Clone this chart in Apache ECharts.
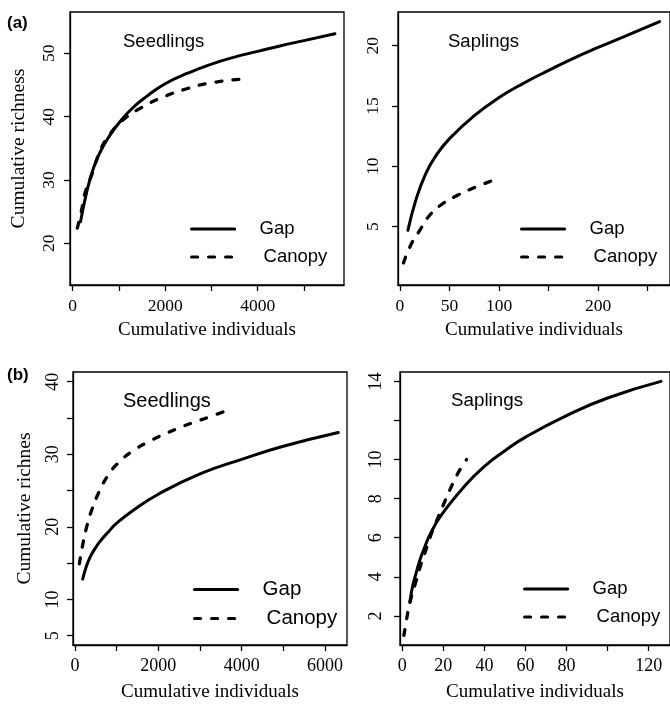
<!DOCTYPE html>
<html><head><meta charset="utf-8">
<script src="https://cdn.jsdelivr.net/npm/echarts@6/dist/echarts.min.js"></script>
<style>html,body{margin:0;padding:0;background:#fff}#c{width:670px;height:705px}</style>
</head><body><div id="c"></div>
<script>
// ---- data ----
const panelTitles = ['Seedlings', 'Saplings', 'Seedlings', 'Saplings'];
const panelTags = ['(a)', '(b)'];
const seriesNames = ['Gap', 'Canopy'];
const xAxisTitle = 'Cumulative individuals';
const yAxisTitles = ['Cumulative richness', '', 'Cumulative richnes', ''];

const xTicks = [[0,1000,2000,3000,4000,5000],[0,50,100,150,200,250],[0,1000,2000,3000,4000,5000,6000],[0,20,40,60,80,100,120]];
const xTickLabels = [[0,2000,4000],[0,50,100,200],[0,2000,4000,6000],[0,20,40,60,80,120]];
const yTicks = [[20,30,40,50],[5,10,15,20],[5,10,15,20,25,30,35,40],[2,4,6,8,10,12,14]];
const yTickLabels = [[20,30,40,50],[5,10,15,20],[5,10,20,30,40],[2,4,6,8,10,14]];

// (a) seedlings
const seedlingsGapA = [[170,23.4],[300,28.0],[450,31.9],[600,34.5],[800,37.0],[1000,39.0],[1300,41.4],[1600,43.2],[2000,45.2],[2500,46.9],[3000,48.3],[3500,49.4],[4000,50.3],[4500,51.2],[5000,52.0],[5670,53.1]];
const seedlingsCanopyA = [[100,22.4],[194,25.3],[266,27.9],[411,30.8],[519,33.2],[627,35.2],[843,37.6],[1094,39.5],[1455,41.3],[1959,43.1],[2465,44.4],[2969,45.3],[3617,45.9]];
// (a) saplings
const saplingsGapA = [[8,4.7],[16,7.2],[26,9.4],[36,10.85],[50,12.3],[75,14.2],[100,15.7],[125,16.9],[150,17.95],[175,18.95],[200,19.85],[225,20.7],[262,22.0]];
const saplingsCanopyA = [[3.5,2.0],[11,3.5],[20,4.7],[30,5.95],[43,6.9],[58,7.6],[74,8.2],[94,8.85]];
// (b) seedlings
const seedlingsGapB = [[184,12.8],[270,14.5],[360,15.8],[480,17.0],[600,18.0],[800,19.3],[1000,20.5],[1400,22.3],[2000,24.5],[3000,27.3],[4000,29.3],[5000,31.1],[6320,33.0]];
const seedlingsCanopyB = [[104,14.9],[184,17.5],[280,20.0],[400,22.3],[560,24.6],[760,26.8],[1000,28.6],[1360,30.35],[1720,31.6],[2040,32.5],[2440,33.5],[2800,34.3],[3200,35.1],[3640,36.0]];
// (b) saplings
const saplingsGapB = [[3.7,2.7],[5,3.5],[6.5,4.1],[8.4,4.8],[10.5,5.4],[13,6.05],[16.5,6.75],[20,7.3],[30,8.6],[40,9.65],[50,10.45],[60,11.15],[80,12.25],[100,13.15],[126,14.0]];
const saplingsCanopyB = [[0.8,1.0],[2.4,2.0],[4,2.8],[6.5,3.7],[8.7,4.5],[11.6,5.4],[14,6.15],[17.1,6.95],[20.3,7.75],[23.4,8.5],[27.1,9.3],[31.3,10.0]];

const panelData = [
  [seedlingsGapA, seedlingsCanopyA],
  [saplingsGapA, saplingsCanopyA],
  [seedlingsGapB, seedlingsCanopyB],
  [saplingsGapB, saplingsCanopyB]
];

// ---- layout / style ----
const grids = [
  {left:70, top:12, width:274, height:273},
  {left:398, top:12, width:277, height:273},
  {left:73, top:372, width:274, height:273},
  {left:400, top:372, width:277, height:273}
];
const xRange = [[-58,5866],[-2,272.5],[-48,6528],[-1.1,130.4]];
const yRange = [[13.42,56.52],[0.17,22.79],[3.72,41.34],[0.51,14.48]];
const yLabelMargin = [11.5, 16, 11, 14.6];
const xNameGap = [36, 36, 37.5, 37.5];
const yNameGap = [41, 0, 38, 0];
const tickFont = [17.5, 17.5, 18, 18];
const legendPos = [[190,219],[520,219],[193,579],[523,579]];
const legendFont = [18.5, 18.5, 20.5, 18.5];
const titlePos = [[123,32,18.5],[448,32,18.5],[123,391,20],[451,391,18.8]];

const serif = 'Liberation Serif';
const sans = 'Liberation Sans';
const dash = [6, 11];

const option = {
  backgroundColor: '#fff',
  animation: false,
  grid: grids.map(g => Object.assign({show:true, borderColor:'#000', borderWidth:1.3, backgroundColor:'transparent'}, g)),
  title: panelTitles.map((t,i) => ({
    text: t, left: titlePos[i][0], top: titlePos[i][1], padding: 0,
    textStyle: {fontFamily: sans, fontWeight: 'normal', fontSize: titlePos[i][2], color: '#000'}
  })).concat([
    {text: panelTags[0], left: 7, top: 15, padding: 0, textStyle: {fontFamily: sans, fontWeight: 'bold', fontSize: 17, color: '#000'}},
    {text: panelTags[1], left: 7, top: 367, padding: 0, textStyle: {fontFamily: sans, fontWeight: 'bold', fontSize: 17, color: '#000'}}
  ]),
  xAxis: grids.map((g,i) => ({
    type: 'value', gridIndex: i, min: xRange[i][0], max: xRange[i][1],
    name: xAxisTitle, nameLocation: 'middle', nameGap: xNameGap[i],
    nameTextStyle: {fontFamily: serif, fontSize: 19, color: '#000'},
    axisLine: {show: true, onZero: false, lineStyle: {color: '#000', width: 1.3}},
    axisTick: {show: true, length: 6, lineStyle: {color: '#000', width: 1.3}, customValues: xTicks[i]},
    axisLabel: {fontFamily: serif, fontSize: tickFont[i], color: '#000', margin: 12, customValues: xTickLabels[i], formatter: v => String(v)},
    splitLine: {show: false}
  })),
  yAxis: grids.map((g,i) => ({
    type: 'value', gridIndex: i, min: yRange[i][0], max: yRange[i][1],
    name: yAxisTitles[i], nameLocation: 'middle', nameGap: yNameGap[i],
    nameTextStyle: {fontFamily: serif, fontSize: 19.5, color: '#000'},
    axisLine: {show: true, onZero: false, lineStyle: {color: '#000', width: 1.3}},
    axisTick: {show: true, length: 6, lineStyle: {color: '#000', width: 1.3}, customValues: yTicks[i]},
    axisLabel: {fontFamily: serif, fontSize: tickFont[i], color: '#000', rotate: 90, margin: yLabelMargin[i], customValues: yTickLabels[i], formatter: v => String(v)},
    splitLine: {show: false}
  })),
  legend: legendPos.map((p,i) => ({
    data: seriesNames, left: p[0], top: p[1], orient: 'vertical', padding: 0,
    itemWidth: 43, itemHeight: 20, itemGap: 8, selectedMode: false,
    itemStyle: {opacity: 0},
    lineStyle: {width: 3.2, color: '#000', cap: 'round'},
    formatter: n => n === 'Gap' ? '{g|' + n + '}' : '{c|' + n + '}',
    textStyle: {fontFamily: sans, fontSize: legendFont[i], color: '#000', lineHeight: 20,
      rich: {g: {fontFamily: sans, fontSize: legendFont[i], color: '#000', padding: [0,0,0,20]},
             c: {fontFamily: sans, fontSize: legendFont[i], color: '#000', padding: [0,0,0,24]}}}
  })),
  series: []
};

panelData.forEach((pair, i) => {
  pair.forEach((d, k) => {
    option.series.push({
      type: 'line', name: seriesNames[k], xAxisIndex: i, yAxisIndex: i,
      data: d, smooth: 0.5, symbol: 'none', clip: false,
      lineStyle: k === 0
        ? {color: '#000', width: 3, cap: 'round'}
        : {color: '#000', width: 3.3, type: dash, cap: 'round'},
      itemStyle: {color: '#000'}
    });
  });
});

const chart = echarts.init(document.getElementById('c'), null, {renderer: 'canvas'});
chart.setOption(option);
</script>
</body></html>
